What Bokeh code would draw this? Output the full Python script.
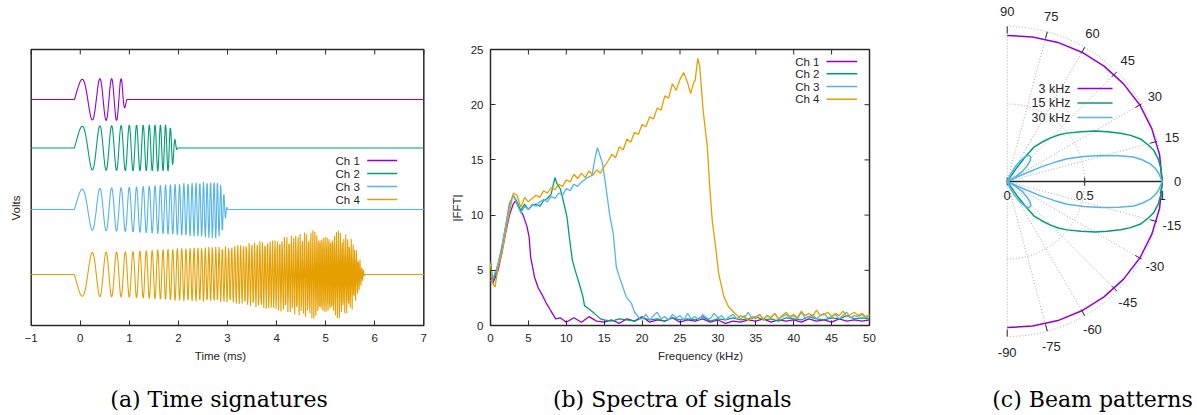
import numpy as np
from bokeh.plotting import figure
from bokeh.layouts import row
from bokeh.models import Range1d, LinearAxis, FixedTicker
from bokeh.core.properties import value
from bokeh.embed import file_html
from bokeh.resources import INLINE

# ------------------------------------------------------------------ data
channel_names = ["Ch 1", "Ch 2", "Ch 3", "Ch 4"]
channel_colors = ["#9400d3", "#009e73", "#56b4e9", "#e69f00"]

# (a) time signatures: chirp bursts
time_window_ms = [-1, 7]
time_ticks = [-1, 0, 1, 2, 3, 4, 5, 6, 7]
volts_window = [-5.52, 0]
sample_rate_khz = 100
trace_offsets = [-1.0, -1.97, -3.2, -4.5]
burst_polarity = [1, 1, 1, -1]
chirp_start_ms = -0.12
chirp_start_khz = 1.2
chirp_rate_khz_per_ms = 4.65
env_t_ch1 = [-0.12, 0.5, 0.85, 0.95]
env_a_ch1 = [0.40, 0.42, 0.42, 0.0]
env_t_ch2 = [-0.12, 1.0, 1.8, 1.88, 1.98]
env_a_ch2 = [0.43, 0.46, 0.47, 0.35, 0.0]
env_t_ch3 = [-0.12, 1.0, 2.0, 2.8, 2.9, 3.0]
env_a_ch3 = [0.40, 0.45, 0.52, 0.58, 0.45, 0.0]
env_t_ch4 = [-0.12, 1.0, 2.0, 3.0, 4.0, 4.8, 5.3, 5.55, 5.7, 5.8]
env_a_ch4 = [0.43, 0.46, 0.53, 0.56, 0.72, 0.9, 0.88, 0.7, 0.3, 0.0]

# (b) spectra |FFT|
freq_window = [0, 50]
fft_window = [0, 25]
freq_ticks = [0, 5, 10, 15, 20, 25, 30, 35, 40, 45, 50]
fft_ticks = [0, 5, 10, 15, 20, 25]
spec_f_ch1 = [0, 0.3, 0.6, 1.0, 1.5, 2.0, 2.5, 3.0, 3.3, 3.8, 4.3, 4.8, 5.1, 5.3, 5.8,
              6.3, 6.8, 7.3, 7.9, 8.6, 9.2]
spec_m_ch1 = [4.5, 3.8, 4.3, 5.0, 6.6, 8.4, 10.0, 11.0, 11.3, 10.6, 10.0, 9.0, 8.0, 6.2, 4.4,
              3.4, 2.8, 2.1, 1.4, 0.6, 0.7]
floor_m_ch1 = [0.3, 0.7, 0.3, 0.8, 0.4, 0.3, 0.5, 0.2, 0.6, 0.4, 0.8, 0.3, 0.5, 0.4, 0.7,
               0.3, 0.5, 0.4, 0.6, 0.3, 0.5, 0.2, 0.4, 0.3, 0.5, 0.4, 0.6, 0.3, 0.5, 0.4,
               0.5, 0.3, 0.6, 0.4, 0.5, 0.3, 0.6, 0.4, 0.5, 0.4, 0.5]          # 10..50 kHz
spec_f_ch2 = [0, 0.3, 0.6, 1.0, 1.5, 2.0, 2.5, 3.0, 3.5, 4.0, 4.5, 5.0, 5.5, 6.0, 6.5, 7.0,
              7.5, 8.0, 8.5, 8.8, 9.2, 9.5, 9.8, 10.1, 10.4, 10.8, 11.3, 11.7, 12.2, 12.4,
              13.0, 13.7, 14.5]
spec_m_ch2 = [5.8, 4.0, 4.6, 5.6, 7.0, 9.0, 11.0, 11.8, 11.2, 10.4, 11.0, 10.5, 10.9, 11.0,
              10.8, 11.3, 11.5, 11.9, 13.4, 12.8, 12.4, 11.6, 10.7, 9.8, 8.0, 5.9, 4.7, 3.8,
              2.6, 1.8, 1.5, 1.1, 0.6]
floor_m_ch2 = [0.5, 0.4, 0.6, 0.5, 0.4, 0.7, 0.5, 0.6, 0.4, 0.7, 0.5, 0.6, 0.5, 0.8, 0.4,
               0.6, 0.5, 0.7, 0.5, 0.6, 0.8, 0.5, 0.6, 0.4, 0.7, 0.6, 0.5, 0.8, 0.6, 0.5,
               0.7, 0.6, 0.9, 0.6, 0.7, 0.6]                                   # 15..50 kHz
spec_f_ch3 = [0, 0.3, 0.6, 1.0, 1.5, 2.0, 2.5, 3.0, 3.5, 4.0, 4.5, 5.0, 5.5, 6.0, 6.5, 7.0,
              7.5, 8.0, 8.5, 9.0, 9.5, 10.0, 10.5, 11.0, 11.5, 12.0, 12.8, 13.4, 13.8, 14.1,
              14.4, 14.8, 15.3, 15.7, 16.2, 16.6, 17.0, 17.3, 17.9, 18.6, 19.0, 19.7]
spec_m_ch3 = [4.0, 4.2, 4.8, 5.5, 7.2, 9.0, 10.8, 11.8, 11.0, 10.2, 10.8, 10.5, 11.0, 10.8,
              11.2, 11.4, 11.2, 11.7, 11.5, 12.0, 11.8, 12.4, 12.2, 12.8, 12.6, 13.0, 13.4,
              13.6, 15.2, 16.1, 15.5, 14.6, 12.2, 10.1, 8.3, 5.3, 4.4, 3.8, 2.6, 2.0, 1.2,
              0.6]
floor_m_ch3 = [0.6, 1.0, 0.5, 0.9, 1.2, 0.6, 0.8, 0.5, 1.0, 0.7,
               0.9, 0.5, 1.1, 0.6, 0.8, 0.5, 1.0, 0.7, 0.6, 1.1,
               0.7, 0.9, 0.5, 0.8, 1.0, 0.6, 0.9, 0.7, 1.2, 0.6,
               0.8, 1.0, 0.6, 0.9, 0.7, 1.1, 0.6, 0.8, 1.0, 0.7,
               0.9, 0.6, 1.2, 0.7, 0.8, 1.0, 0.6, 0.9, 1.1, 0.7,
               0.8, 1.0, 0.6, 0.9, 1.2, 0.7, 0.9, 0.8, 1.0, 0.7, 0.9]             # 20..50 kHz, 0.5 step
spec_f_ch4 = [0, 0.3, 0.6, 1.0, 1.5, 2.0, 2.5, 3.0, 3.5, 4.0, 4.5, 5.0, 5.5, 6.0, 6.5, 7.0,
              7.5, 8.0, 8.5, 9.0, 9.5, 10.0, 10.5, 11.0, 11.5, 12.0, 12.5, 13.0, 13.5, 14.0,
              14.5, 15.0, 15.5, 16.0, 16.5, 17.0, 17.5, 18.0, 18.5, 19.0, 19.5, 20.0, 20.5,
              21.0, 21.5, 22.0, 22.5, 23.0, 23.5, 24.0, 24.5, 25.0, 25.5, 26.0, 26.4, 26.8,
              27.0, 27.35, 27.6, 28.05, 28.6, 28.9, 29.25, 29.7, 30.1, 30.8, 31.4, 32.3, 32.8]
spec_m_ch4 = [5.6, 3.8, 3.5, 5.3, 6.5, 8.5, 10.3, 12.0, 11.8, 10.7, 11.6, 11.2, 11.5, 11.8,
              11.6, 12.2, 12.0, 12.5, 12.3, 12.8, 12.6, 13.2, 13.0, 13.7, 13.3, 13.8, 13.4,
              14.0, 13.6, 14.1, 13.8, 14.4, 14.9, 15.5, 15.2, 16.2, 15.9, 16.9, 16.6, 17.5,
              17.3, 18.2, 18.0, 18.9, 18.7, 19.7, 19.5, 20.8, 20.6, 21.9, 21.3, 22.3, 22.9,
              22.0, 21.0, 22.0, 22.2, 24.2, 23.5, 19.5, 16.2, 12.8, 9.5, 7.1, 4.7, 2.6, 1.7,
              1.06, 0.75]
floor_m_ch4 = [0.6, 0.9, 0.4, 0.8, 0.6, 1.0, 0.5, 0.9, 0.7, 1.1,
               0.6, 0.9, 1.2, 0.8, 1.0, 0.7, 1.3, 0.9, 1.1, 0.8,
               1.4, 0.9, 1.0, 1.2, 0.8, 1.1, 0.9, 1.3, 0.8, 1.0,
               1.2, 0.9, 1.1, 0.8, 1.0]                                          # 33..50 kHz, 0.5 step
floor_start = [10.0, 15.0, 20.0, 33.0]
floor_step = [1.0, 1.0, 0.5, 0.5]

# (c) beam patterns, normalised radius vs angle (deg), symmetric about 0
beam_names = ["3 kHz", "15 kHz", "30 kHz"]
beam_colors = ["#9400d3", "#009e73", "#56b4e9"]
beam_ang_3k = [0, 10, 20, 30, 40, 50, 60, 70, 80, 90]
beam_r_3k = [1.0, 0.998, 0.993, 0.988, 0.98, 0.972, 0.963, 0.955, 0.947, 0.942]
beam_ang_15k = [0, 5.3, 8.5, 11.9, 14.5, 17.7, 20.5, 23.1, 26.5, 29.7, 34, 38.9, 42, 45.2,
                48.5, 52.2, 53.5, 55, 56, 56.5, 90]
beam_r_15k = [1.0, 0.994, 0.985, 0.967, 0.94, 0.903, 0.85, 0.795, 0.72, 0.656, 0.575, 0.497,
              0.45, 0.397, 0.34, 0.28, 0.2, 0.113, 0.04, 0.0, 0.0]
beam_ang_30k = [0, 3, 5, 7, 9, 11, 13, 15.6, 18, 20.7, 22, 23.3, 24.2, 24.8, 27, 30, 34, 38,
                42, 46, 50, 54, 58, 62, 66, 69, 90]
beam_r_30k = [1.0, 0.98, 0.96, 0.93, 0.885, 0.83, 0.74, 0.625, 0.52, 0.414, 0.33, 0.234,
              0.094, 0.0, 0.0, 0.06, 0.12, 0.16, 0.2, 0.22, 0.22, 0.2, 0.155, 0.1, 0.045,
              0.0, 0.0]
polar_angle_ticks = [-90, -75, -60, -45, -30, -15, 0, 15, 30, 45, 60, 75, 90]
polar_r_ticks = [0, 0.5, 1]
polar_r_labels = ["0", "0.5", "1"]

captions = ["(a) Time signatures", "(b) Spectra of signals", "(c) Beam patterns"]

# ------------------------------------------------------------------ layout constants (pixels)
H = 415
BOX_TOP, BOX_BOTTOM = 49, 325
A_W, A_LEFT, A_RIGHT = 440, 30.7, 423.3
B_W, B_LEFT, B_RIGHT = 520, 50.0, 429.0
C_W, C_ORIGIN_X, C_ORIGIN_Y, C_UNIT = 237, 46.7, 181.0, 155.0
CAPTION_BASELINE = 399
TICK_LEN = 5

FONT = "Liberation Sans"
SERIF = "DejaVu Serif"
INK = "#262626"
FRAME = "#2a2a2a"


def full_range(lo, hi, px_lo, px_hi, px_total, flip=False):
    """Range whose [lo, hi] sits at pixels [px_lo, px_hi] of a canvas px_total long."""
    s = (hi - lo) / (px_hi - px_lo)
    if flip:  # pixels measured from top
        return Range1d(lo - (px_total - px_hi) * s, hi + px_lo * s), s
    return Range1d(lo - px_lo * s, hi + (px_total - px_hi) * s), s


def new_fig(w, xr, yr):
    p = figure(width=w, height=H, output_backend="svg", toolbar_location=None,
               x_range=xr, y_range=yr, x_axis_location=None, y_axis_location=None,
               min_border=0)
    p.outline_line_color = None
    p.background_fill_color = "white"
    p.border_fill_color = "white"
    for g in p.grid:
        g.visible = False
    return p


def fixed_axis(p, side, loc, ticks, label, label_standoff, tick_standoff):
    ax = LinearAxis(ticker=FixedTicker(ticks=ticks), fixed_location=loc)
    ax.axis_line_color = None
    ax.major_tick_in = TICK_LEN
    ax.major_tick_out = 0
    ax.major_tick_line_color = FRAME
    ax.minor_tick_line_color = None
    ax.major_label_text_font = FONT
    ax.major_label_text_font_size = "11.5px"
    ax.major_label_text_color = INK
    ax.major_label_standoff = tick_standoff
    ax.axis_label = label
    ax.axis_label_text_font = FONT
    ax.axis_label_text_font_size = "11.5px"
    ax.axis_label_text_font_style = "normal"
    ax.axis_label_text_color = INK
    ax.axis_label_standoff = label_standoff
    p.add_layout(ax, side)
    return ax


def draw_box(p, xw, yw):
    p.quad(left=[xw[0]], right=[xw[1]], bottom=[yw[0]], top=[yw[1]], fill_color=None,
           line_color=FRAME, line_width=1.5)


def draw_legend(p, names, colors, text_x, line_x0, line_x1, rows_y, size, width):
    p.text(x=[text_x] * len(names), y=rows_y, text=names, text_align="right",
           text_baseline="middle", text_font=value(FONT), text_font_size=value(size),
           text_color=INK)
    p.segment(x0=[line_x0] * len(names), y0=rows_y, x1=[line_x1] * len(names), y1=rows_y,
              line_color=colors, line_width=width)


def caption(p, x, y, txt):
    p.text(x=[x], y=[y], text=[txt], text_align="center", text_baseline="alphabetic",
           text_font=value(SERIF), text_font_size=value("22px"), text_color="black")


# ------------------------------------------------------------------ (a) time signatures
xr_a, sx_a = full_range(time_window_ms[0], time_window_ms[1], A_LEFT, A_RIGHT, A_W)
yr_a, sy_a = full_range(volts_window[0], volts_window[1], BOX_TOP, BOX_BOTTOM, H, flip=True)
pa = new_fig(A_W, xr_a, yr_a)
fixed_axis(pa, "below", volts_window[0], time_ticks, "Time (ms)", 5, 8)
fixed_axis(pa, "left", time_window_ms[0], [], "Volts", 10, 0)
pa.segment(x0=time_ticks, y0=volts_window[1], x1=time_ticks,
           y1=volts_window[1] - TICK_LEN * sy_a, line_color=FRAME, line_width=1)
draw_box(pa, time_window_ms, volts_window)

t = np.arange(time_window_ms[0] * sample_rate_khz,
              time_window_ms[1] * sample_rate_khz + 1) / sample_rate_khz
env_times = [env_t_ch1, env_t_ch2, env_t_ch3, env_t_ch4]
env_amps = [env_a_ch1, env_a_ch2, env_a_ch3, env_a_ch4]
for i in range(4):
    et, ea = env_times[i], env_amps[i]
    active = (t >= et[0]) & (t <= et[-1])
    env = np.interp(t, et, ea) * active
    tau = np.clip(t - chirp_start_ms, 0, None)
    phase = chirp_start_khz * tau + 0.5 * chirp_rate_khz_per_ms * tau ** 2
    y = trace_offsets[i] + burst_polarity[i] * env * np.sin(2 * np.pi * phase)
    pa.line(t, y, line_color=channel_colors[i], line_width=1.1)

draw_legend(pa, channel_names, channel_colors,
            time_window_ms[0] + (359.3 - A_LEFT) * sx_a,
            time_window_ms[0] + (366.7 - A_LEFT) * sx_a,
            time_window_ms[0] + (396.7 - A_LEFT) * sx_a,
            [volts_window[1] - (py - BOX_TOP) * sy_a for py in (160, 173, 186, 199)],
            "11.5px", 1.5)
caption(pa, time_window_ms[0] + (218.5 - A_LEFT) * sx_a,
        volts_window[1] - (CAPTION_BASELINE - BOX_TOP) * sy_a, captions[0])

# ------------------------------------------------------------------ (b) spectra
xr_b, sx_b = full_range(freq_window[0], freq_window[1], B_LEFT, B_RIGHT, B_W)
yr_b, sy_b = full_range(fft_window[0], fft_window[1], BOX_TOP, BOX_BOTTOM, H, flip=True)
pb = new_fig(B_W, xr_b, yr_b)
fixed_axis(pb, "below", fft_window[0], freq_ticks, "Frequency (kHz)", 5, 8)
fixed_axis(pb, "left", freq_window[0], fft_ticks, "|FFT|", 5, 7)
pb.segment(x0=freq_ticks, y0=fft_window[1], x1=freq_ticks,
           y1=fft_window[1] - TICK_LEN * sy_b, line_color=FRAME, line_width=1)
pb.segment(x0=freq_window[1], y0=fft_ticks, x1=freq_window[1] - TICK_LEN * sx_b,
           y1=fft_ticks, line_color=FRAME, line_width=1)
draw_box(pb, freq_window, fft_window)

spec_f = [spec_f_ch1, spec_f_ch2, spec_f_ch3, spec_f_ch4]
spec_m = [spec_m_ch1, spec_m_ch2, spec_m_ch3, spec_m_ch4]
floors = [floor_m_ch1, floor_m_ch2, floor_m_ch3, floor_m_ch4]
for i in range(4):
    ff = floor_start[i] + floor_step[i] * np.arange(len(floors[i]))
    xs = list(spec_f[i]) + list(ff)
    ys = list(spec_m[i]) + list(floors[i])
    pb.line(xs, ys, line_color=channel_colors[i], line_width=1.3)

draw_legend(pb, channel_names, channel_colors,
            (379.0 - 440 - B_LEFT + 440) * sx_b if False else (819.0 - 440 - B_LEFT) * sx_b,
            (826.0 - 440 - B_LEFT) * sx_b,
            (856.7 - 440 - B_LEFT) * sx_b,
            [fft_window[1] - (py - BOX_TOP) * sy_b for py in (61, 73.3, 86, 98.7)],
            "11.5px", 1.5)
caption(pb, (671.7 - 440 - B_LEFT) * sx_b,
        fft_window[1] - (CAPTION_BASELINE - BOX_TOP) * sy_b, captions[1])

# ------------------------------------------------------------------ (c) beam patterns
xr_c = Range1d(-C_ORIGIN_X / C_UNIT, (C_W - C_ORIGIN_X) / C_UNIT)
yr_c = Range1d(-(H - C_ORIGIN_Y) / C_UNIT, C_ORIGIN_Y / C_UNIT)
pc = new_fig(C_W, xr_c, yr_c)

GRID = "#a8a8a8"
rad = np.deg2rad(polar_angle_ticks)
pc.segment(x0=0, y0=0, x1=np.cos(rad), y1=np.sin(rad), line_color=GRID,
           line_dash="1 2", line_width=1)
for rr in [0.5, 1.0]:
    pc.arc(x=0, y=0, radius=rr, start_angle=-np.pi / 2, end_angle=np.pi / 2,
           line_color=GRID, line_dash="1 2", line_width=1)
pc.segment(x0=(1 - TICK_LEN * 1.4 / C_UNIT) * np.cos(rad),
           y0=(1 - TICK_LEN * 1.4 / C_UNIT) * np.sin(rad),
           x1=np.cos(rad), y1=np.sin(rad), line_color=FRAME, line_width=1)
pc.segment(x0=[polar_r_ticks[0]], y0=[0], x1=[polar_r_ticks[-1]], y1=[0],
           line_color=FRAME, line_width=1.5)
pc.segment(x0=polar_r_ticks, y0=-4 / C_UNIT, x1=polar_r_ticks, y1=4 / C_UNIT,
           line_color=FRAME, line_width=1)
pc.text(x=polar_r_ticks, y=[-14 / C_UNIT] * 3, text=polar_r_labels, text_align="center",
        text_baseline="middle", text_font=value(FONT), text_font_size=value("13px"),
        text_color=INK)
pc.text(x=1.1 * np.cos(rad), y=1.1 * np.sin(rad), text=[str(a) for a in polar_angle_ticks],
        text_align="center", text_baseline="middle", text_font=value(FONT),
        text_font_size=value("13px"), text_color=INK)

beam_ang = [beam_ang_3k, beam_ang_15k, beam_ang_30k]
beam_r = [beam_r_3k, beam_r_15k, beam_r_30k]
for i in range(3):
    a = np.array(beam_ang[i], dtype=float)
    r = np.array(beam_r[i], dtype=float)
    a_full = np.concatenate([-a[::-1], a[1:]])
    r_full = np.concatenate([r[::-1], r[1:]])
    th = np.deg2rad(a_full)
    pc.line(r_full * np.cos(th), r_full * np.sin(th), line_color=beam_colors[i],
            line_width=1.5)

draw_legend(pc, beam_names, beam_colors,
            (1070 - 960 - C_ORIGIN_X) / C_UNIT,
            (1077 - 960 - C_ORIGIN_X) / C_UNIT,
            (1112 - 960 - C_ORIGIN_X) / C_UNIT,
            [(C_ORIGIN_Y - py) / C_UNIT for py in (88, 102.5, 117)], "12.5px", 1.5)
caption(pc, (1092 - 960 - C_ORIGIN_X) / C_UNIT,
        (C_ORIGIN_Y - CAPTION_BASELINE) / C_UNIT, captions[2])

layout = row(pa, pb, pc, spacing=0)
open("out.html", "w").write(file_html(layout, INLINE))
